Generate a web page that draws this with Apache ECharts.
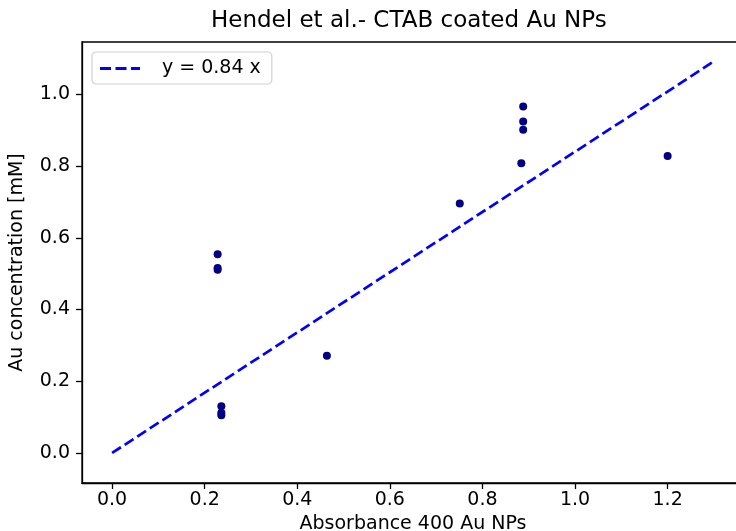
<!DOCTYPE html>
<html>
<head>
<meta charset="utf-8">
<script src="https://cdn.jsdelivr.net/npm/echarts@6/dist/echarts.min.js"></script>
<style>html,body{margin:0;padding:0;background:#fff}#c{width:736px;height:531px}</style>
</head>
<body>
<div id="c"></div>
<script>
var absorbance = [0.228, 0.228, 0.228, 0.236, 0.236, 0.236, 0.464, 0.751, 0.884, 0.888, 0.888, 0.888, 1.200];
var concentration = [0.554, 0.516, 0.511, 0.130, 0.112, 0.105, 0.271, 0.696, 0.808, 0.966, 0.924, 0.901, 0.828];
var slope = 0.84;
var fitX = [0, 1.3];
var xTicks = [0.0, 0.2, 0.4, 0.6, 0.8, 1.0, 1.2];
var yTicks = [0.0, 0.2, 0.4, 0.6, 0.8, 1.0];

var pts = absorbance.map(function (x, i) { return [x, concentration[i]]; });
var fit = fitX.map(function (x) { return [x, slope * x]; });
var font = 'DejaVu Sans';
var fs = 19;

var chart = echarts.init(document.getElementById('c'), null, {renderer: 'canvas'});
chart.setOption({
  animation: false,
  backgroundColor: '#fff',
  title: {
    text: 'Hendel et al.- CTAB coated Au NPs',
    left: 211, top: 10, padding: 0,
    textStyle: {fontFamily: font, fontSize: 23, fontWeight: 'normal', color: '#000'}
  },
  legend: {
    left: 92, top: 52,
    padding: [7, 11, 6, 8],
    backgroundColor: '#fff',
    borderColor: '#d0d0d0', borderWidth: 1.2, borderRadius: 4,
    itemWidth: 40, itemHeight: 3, itemGap: 10,
    icon: 'path://M0,0H11V3H0Z M15.5,0H26.5V3H15.5Z M31,0H40V3H31Z',
    itemStyle: {color: '#0000ff', borderWidth: 0},
    textStyle: {fontFamily: font, fontSize: fs, color: '#000', padding: [0, 0, 0, 17]},
    data: [{name: 'y = 0.84 x'}]
  },
  grid: {left: 82, top: 42, right: -8, bottom: 48, outerBoundsMode: 'none', containLabel: false,
         show: true, borderColor: '#000', borderWidth: 1.3, backgroundColor: 'transparent'},
  xAxis: {
    type: 'value', min: -0.065, max: 1.365,
    name: 'Absorbance 400 Au NPs', nameLocation: 'middle', nameGap: 28,
    nameTextStyle: {fontFamily: font, fontSize: fs, color: '#000', verticalAlign: 'top'},
    axisLine: {show: true, onZero: false, lineStyle: {color: '#000', width: 1.3}},
    axisTick: {show: true, length: 6, lineStyle: {color: '#000', width: 1.3}, customValues: xTicks},
    axisLabel: {margin: 8, fontFamily: font, fontSize: fs, color: '#000', customValues: xTicks, formatter: function (v) { return v.toFixed(1); }},
    splitLine: {show: false}
  },
  yAxis: {
    type: 'value', min: -0.0837, max: 1.146,
    name: 'Au concentration [mM]', nameLocation: 'middle', nameGap: 55,
    nameTextStyle: {fontFamily: font, fontSize: fs, color: '#000'},
    axisLine: {show: true, onZero: false, lineStyle: {color: '#000', width: 1.3}},
    axisTick: {show: true, length: 6, lineStyle: {color: '#000', width: 1.3}, customValues: yTicks},
    axisLabel: {margin: 12, fontFamily: font, fontSize: fs, color: '#000', customValues: yTicks, formatter: function (v) { return v.toFixed(1); }},
    splitLine: {show: false}
  },
  series: [
    {
      name: 'y = 0.84 x', type: 'line', data: fit, symbol: 'none', showSymbol: false,
      lineStyle: {color: '#0000ff', width: 2.7, type: [10.5, 4.5]},
      itemStyle: {color: '#0000ff'}, z: 3
    },
    {
      name: 'points', type: 'scatter', data: pts, symbol: 'circle', symbolSize: 8,
      itemStyle: {color: '#000080', opacity: 1}, z: 4
    }
  ]
});
</script>
</body>
</html>
